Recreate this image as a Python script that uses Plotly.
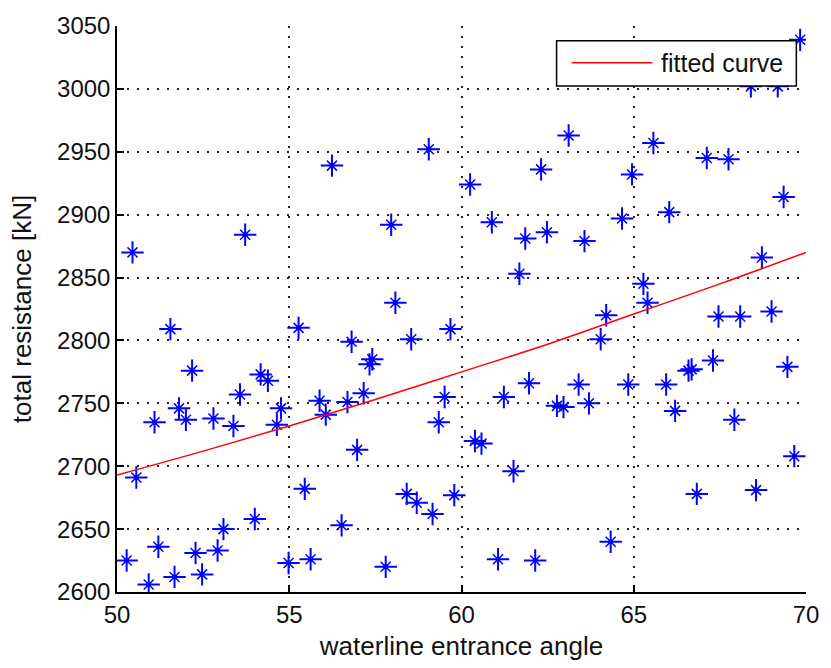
import plotly.graph_objects as go

# Measured hull data: waterline entrance angle [deg] vs total resistance [kN]
angle = [
    50.28, 50.45, 50.56, 50.92, 51.09, 51.20, 51.55, 51.67, 51.80, 52.00,
    52.18, 52.28, 52.47, 52.80, 52.92, 53.09, 53.38, 53.57, 53.72, 54.00,
    54.17, 54.38, 54.64, 54.76, 54.98, 55.27, 55.45, 55.62, 55.88, 56.06,
    56.24, 56.52, 56.69, 56.81, 56.97, 57.16, 57.33, 57.41, 57.80, 57.96,
    58.08, 58.41, 58.54, 58.70, 59.05, 59.16, 59.34, 59.51, 59.68, 59.79,
    60.25, 60.39, 60.58, 60.88, 61.06, 61.23, 61.51, 61.68, 61.85, 61.96,
    62.14, 62.31, 62.48, 62.77, 62.96, 63.11, 63.40, 63.57, 63.70, 64.04,
    64.20, 64.33, 64.66, 64.84, 64.95, 65.28, 65.40, 65.57, 65.94, 66.03,
    66.20, 66.59, 66.68, 66.83, 67.12, 67.30, 67.46, 67.75, 67.92, 68.09,
    68.40, 68.55, 68.72, 69.00, 69.18, 69.35, 69.46, 69.66, 69.83,
]
resistance = [
    2625, 2870, 2691, 2606, 2735, 2636, 2809, 2612, 2746, 2737,
    2776, 2631, 2614, 2738, 2633, 2650, 2732, 2757, 2884, 2658,
    2773, 2768, 2733, 2746, 2623, 2810, 2682, 2626, 2752, 2741,
    2939, 2653, 2751, 2799, 2713, 2758, 2781, 2785, 2620, 2892,
    2830, 2678, 2801, 2671, 2952, 2662, 2735, 2755, 2809, 2677,
    2924, 2720, 2718, 2894, 2626, 2755, 2696, 2853, 2881, 2766,
    2625, 2936, 2886, 2748, 2747, 2963, 2765, 2879, 2750, 2801,
    2820, 2640, 2897, 2765, 2932, 2845, 2830, 2957, 2765, 2902,
    2744, 2776, 2777, 2678, 2945, 2784, 2819, 2944, 2737, 2819,
    3002, 2681, 2866, 2823, 3002, 2914, 2779, 2708, 3039,
]

# Fitted curve sampled along the angle range
curve_angle = [50, 52.5, 55, 57.5, 60, 62.5, 65, 67.5, 70]
curve_resistance = [2693, 2712, 2732, 2753, 2775, 2797, 2821, 2845, 2870]

x_ticks = [50, 55, 60, 65, 70]
y_ticks = [2600, 2650, 2700, 2750, 2800, 2850, 2900, 2950, 3000, 3050]

FONT = "Liberation Sans, Arial, Helvetica, sans-serif"
BLUE = "rgb(0,0,255)"
RED = "rgb(255,0,0)"

fig = go.Figure()

# Asterisk markers: long straight arms, short diagonal arms, solid centre
fig.add_trace(go.Scatter(
    x=angle, y=resistance, mode="markers", showlegend=False, hoverinfo="skip",
    marker=dict(symbol="cross-thin-open", size=16, color=BLUE,
                line=dict(color=BLUE, width=2)),
))
fig.add_trace(go.Scatter(
    x=angle, y=resistance, mode="markers", showlegend=False, hoverinfo="skip",
    marker=dict(symbol="x-thin-open", size=10, color=BLUE,
                line=dict(color=BLUE, width=1.5)),
))
fig.add_trace(go.Scatter(
    x=angle, y=resistance, mode="markers", showlegend=False,
    marker=dict(symbol="circle", size=5, color=BLUE, line=dict(width=0)),
))

fig.add_trace(go.Scatter(
    x=curve_angle, y=curve_resistance, mode="lines", name="fitted curve",
    line=dict(color=RED, width=1.5, shape="spline"), showlegend=False,
))

# Boxed legend in the upper right corner, drawn over the markers
lx0, lx1, ly0, ly1 = 0.638, 0.986, 0.894, 0.974
fig.add_shape(type="rect", xref="paper", yref="paper", x0=lx0, x1=lx1, y0=ly0, y1=ly1,
              line=dict(color="black", width=1.5), fillcolor="white", layer="above")
fig.add_shape(type="line", xref="paper", yref="paper", x0=0.660, x1=0.777, y0=0.935, y1=0.935,
              line=dict(color=RED, width=1.5), layer="above")
fig.add_annotation(xref="paper", yref="paper", x=0.786, y=0.935, text="fitted curve",
                   showarrow=False, xanchor="left", yanchor="middle",
                   font=dict(family=FONT, size=25, color="#111"))

axis_common = dict(
    showgrid=True, gridcolor="rgba(0,0,0,0.85)", gridwidth=1.5, griddash="2px,8px",
    showline=True, linecolor="black", linewidth=1.5, mirror=False,
    ticks="inside", ticklen=7, tickwidth=1.5, tickcolor="black",
    zeroline=False, tickfont=dict(family=FONT, size=24, color="#111"),
)

fig.update_xaxes(
    range=[50, 70], tickvals=x_ticks, ticktext=[str(v) for v in x_ticks],
    title=dict(text="waterline entrance angle", standoff=10,
               font=dict(family=FONT, size=26, color="#111")),
    **axis_common,
)
fig.update_yaxes(
    range=[2600, 3050], tickvals=y_ticks, ticktext=[str(v) for v in y_ticks],
    title=dict(text="total resistance [kN]", standoff=18,
               font=dict(family=FONT, size=26, color="#111")),
    **axis_common,
)

fig.update_layout(
    width=831, height=668,
    margin=dict(l=117, r=15, t=22, b=73),
    plot_bgcolor="white", paper_bgcolor="white",
    showlegend=False,
)

fig.write_html("out.html")
